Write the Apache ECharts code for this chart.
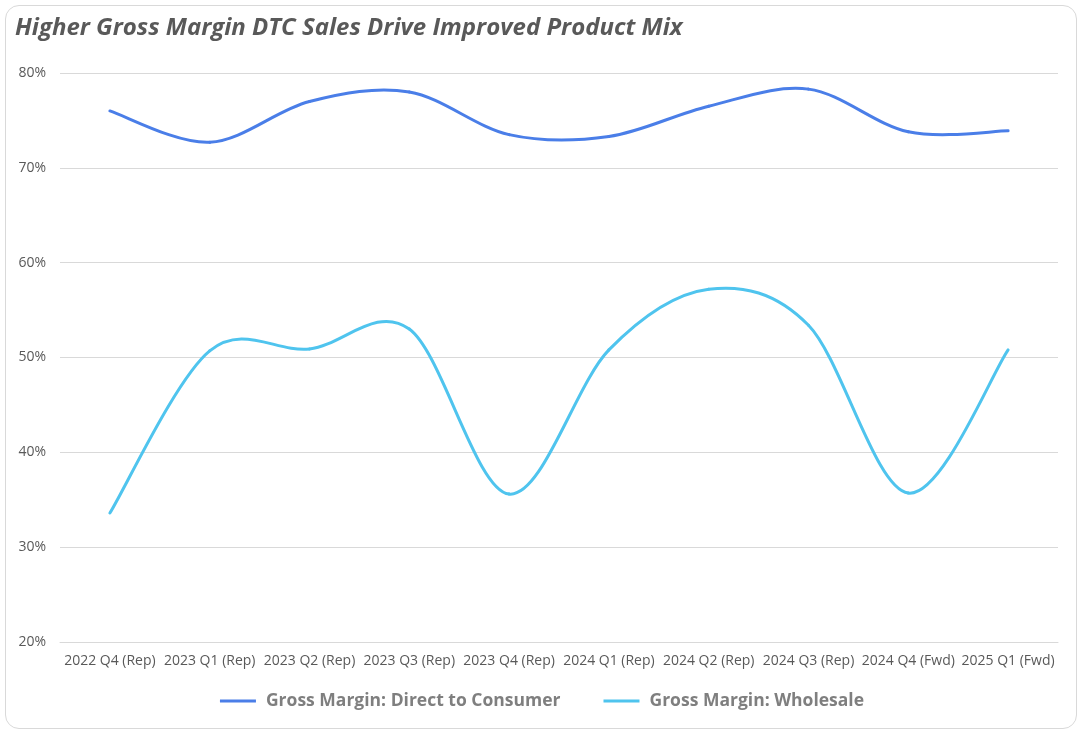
<!DOCTYPE html>
<html>
<head>
<meta charset="utf-8">
<script src="https://cdn.jsdelivr.net/npm/echarts@6/dist/echarts.min.js"></script>
<style>
html,body{margin:0;padding:0;background:#fff;}
#frame{position:absolute;left:5px;top:5px;width:1072px;height:724px;border:1px solid #d9d9d9;border-radius:14px;box-sizing:border-box;overflow:hidden;}
#chart{position:absolute;left:0;top:0;width:1084px;height:735px;}
</style>
</head>
<body>
<div id="frame"></div>
<div id="chart"></div>
<script>
const titleText = "Higher Gross Margin DTC Sales Drive Improved Product Mix";
const categories = ["2022 Q4 (Rep)","2023 Q1 (Rep)","2023 Q2 (Rep)","2023 Q3 (Rep)","2023 Q4 (Rep)","2024 Q1 (Rep)","2024 Q2 (Rep)","2024 Q3 (Rep)","2024 Q4 (Fwd)","2025 Q1 (Fwd)"];
const seriesNames = ["Gross Margin: Direct to Consumer","Gross Margin: Wholesale"];
const dtcValues = [0.760,0.727,0.770,0.780,0.735,0.733,0.765,0.783,0.738,0.739];
const wholesaleValues = [0.336,0.507,0.509,0.530,0.356,0.508,0.572,0.534,0.357,0.508];
const yTicks = {min:0.2,max:0.8,interval:0.1};
const colors = ['#4a7ee8','#4fc4ee'];

// Smooth curve segment (Catmull-Rom style, like spreadsheet smoothed lines),
// positioned through the chart's own axes via api.coord.
function makeRender(values, color){
  const n = values.length;
  return function(params, api){
    const i = params.dataIndex;
    if (i >= n - 1) return null;
    const c = k => api.coord([Math.max(0, Math.min(n - 1, k)), values[Math.max(0, Math.min(n - 1, k))]]);
    const p0 = c(i - 1), p1 = c(i), p2 = c(i + 1), p3 = c(i + 2);
    return {
      type:'bezierCurve',
      shape:{
        x1:p1[0], y1:p1[1], x2:p2[0], y2:p2[1],
        cpx1:p1[0] + (p2[0] - p0[0]) / 6, cpy1:p1[1] + (p2[1] - p0[1]) / 6,
        cpx2:p2[0] - (p3[0] - p1[0]) / 6, cpy2:p2[1] - (p3[1] - p1[1]) / 6
      },
      style:{stroke:color, lineWidth:3, fill:null, lineCap:'round'}
    };
  };
}

const chart = echarts.init(document.getElementById('chart'));
chart.setOption({
  backgroundColor:'transparent',
  animation:false,
  color:colors,
  title:{
    text:titleText,left:10,top:11,
    textStyle:{fontFamily:'Open Sans',fontStyle:'italic',fontWeight:'bold',fontSize:24,color:'#595959'}
  },
  legend:{
    data:seriesNames.map(n=>({name:n,icon:'rect'})),bottom:20,left:'center',itemWidth:36,itemHeight:3,itemGap:43,
    textStyle:{fontFamily:'Open Sans',fontWeight:'bold',fontSize:17.5,color:'#7f7f7f',padding:[0,0,0,5]}
  },
  grid:{left:60,right:26,top:73,bottom:93,containLabel:false},
  xAxis:{
    type:'category',data:categories,boundaryGap:true,
    axisLine:{lineStyle:{color:'#d9d9d9'}},
    axisTick:{show:false},
    axisLabel:{fontFamily:'Open Sans',fontSize:14,color:'#595959',margin:12,interval:0}
  },
  yAxis:{
    type:'value',min:yTicks.min,max:yTicks.max,interval:yTicks.interval,
    axisLine:{show:false},axisTick:{show:false},
    splitLine:{lineStyle:{color:'#d9d9d9'}},
    axisLabel:{fontFamily:'Open Sans',fontSize:14,color:'#595959',margin:14,
      formatter:v=>Math.round(v*100)+'%'}
  },
  series:[
    {name:seriesNames[0],type:'custom',data:dtcValues.map((v,i)=>[i,v]),
     encode:{x:0,y:1},itemStyle:{color:colors[0]},renderItem:makeRender(dtcValues,colors[0])},
    {name:seriesNames[1],type:'custom',data:wholesaleValues.map((v,i)=>[i,v]),
     encode:{x:0,y:1},itemStyle:{color:colors[1]},renderItem:makeRender(wholesaleValues,colors[1])}
  ]
});
</script>
</body>
</html>
